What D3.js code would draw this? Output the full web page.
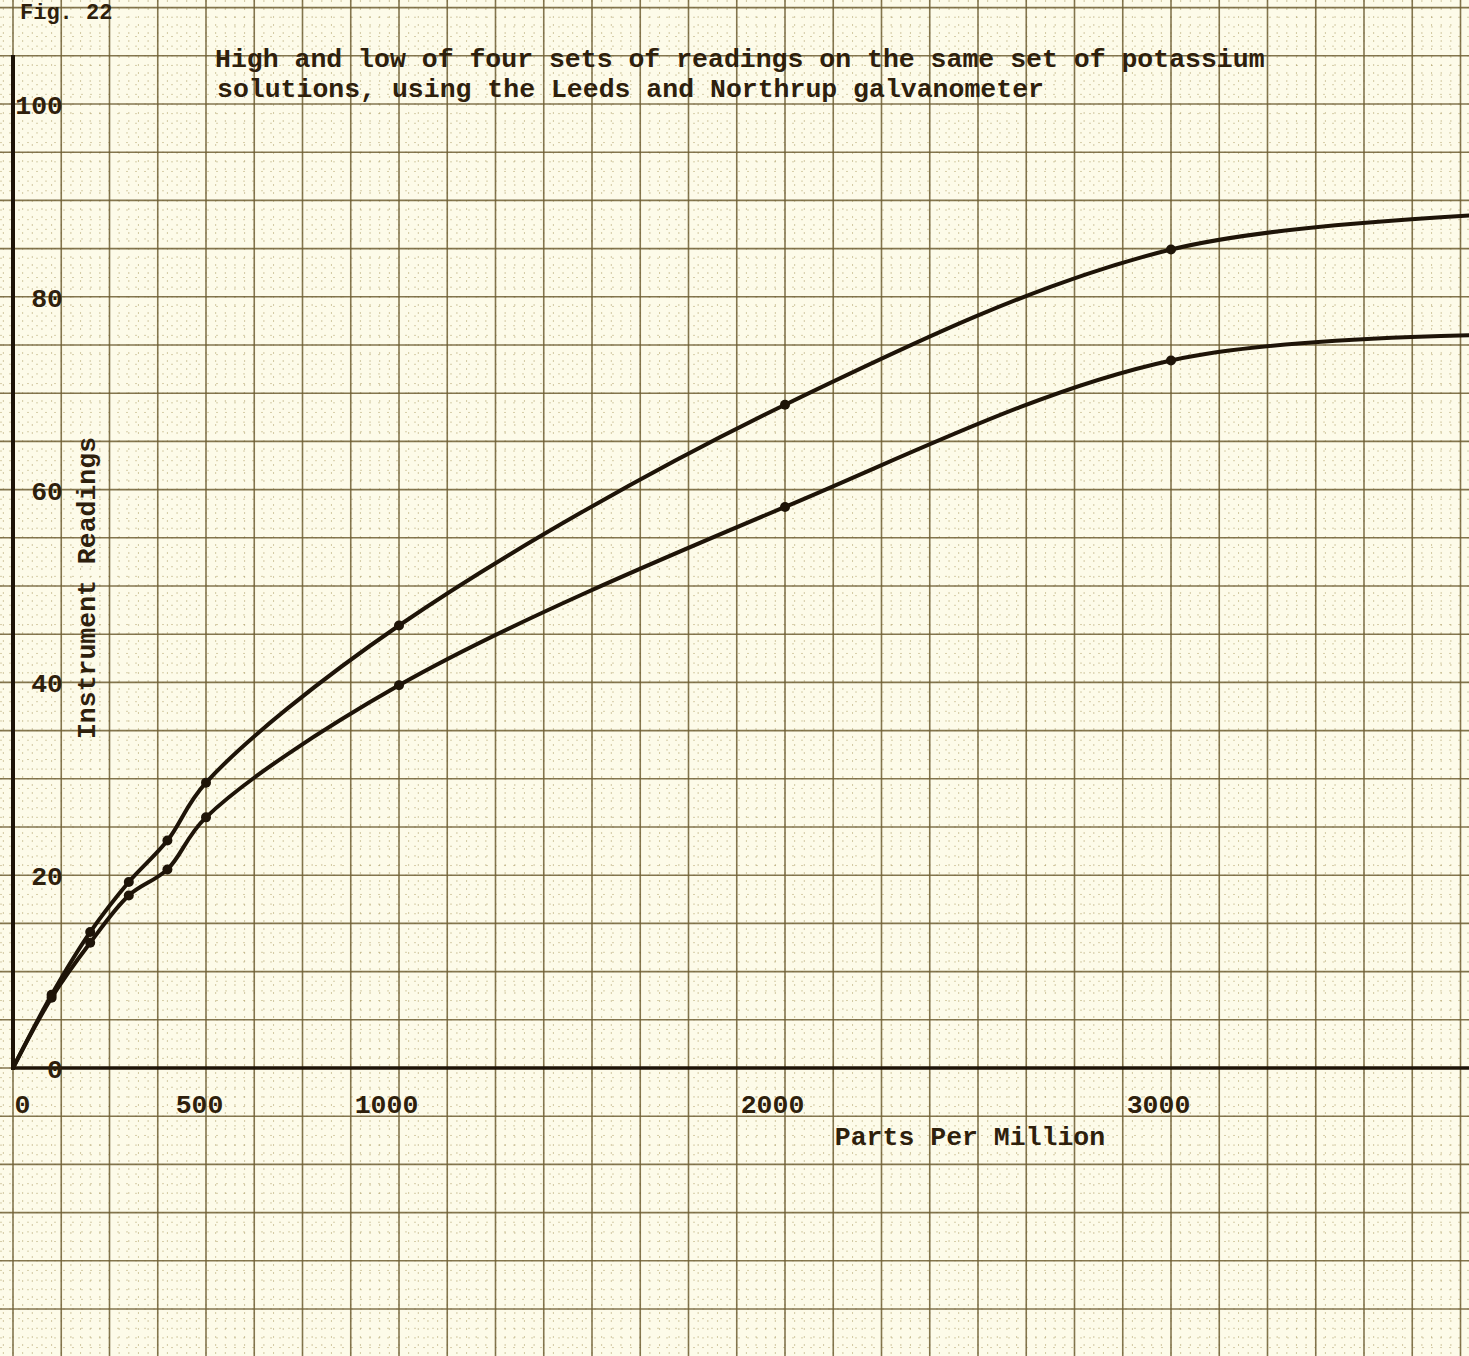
<!DOCTYPE html>
<html>
<head>
<meta charset="utf-8">
<script src="https://cdn.jsdelivr.net/npm/d3@7"></script>
<style>
  body { margin: 0; background: #fdfbe9; }
  text { font-family: "Liberation Mono", "DejaVu Sans Mono", monospace; font-weight: bold; fill: #2e200c; }
</style>
</head>
<body>
<div class="chart"></div>
<script>
const svgWidth = 1469
const svgHeight = 1356

// readings (ppm vs instrument reading)
const ppm = [0, 100, 200, 300, 400, 500, 1000, 2000, 3000, 4000]
const high = [0, 7.6, 14.1, 19.3, 23.6, 29.6, 45.9, 68.8, 84.9, 88.8]
const low = [0, 7.3, 13.0, 17.9, 20.6, 26.0, 39.7, 58.2, 73.4, 76.1]

const xTicks = [0, 500, 1000, 2000, 3000]
const yTicks = [0, 20, 40, 60, 80, 100]

const titleLines = [
  "High and low of four sets of readings on the same set of potassium",
  "solutions, using the Leeds and Northrup galvanometer"
]

let svg = d3
  .select(".chart")
  .append("svg")
  .attr("width", svgWidth)
  .attr("height", svgHeight)

svg.append("rect")
  .attr("width", svgWidth)
  .attr("height", svgHeight)
  .attr("fill", "#fdfbe9")

let x = d3.scaleLinear().domain([0, 1000]).range([13, 399])
let y = d3.scaleLinear().domain([0, 100]).range([1068, 104])

// graph paper: fine dotted rulings, heavier every 5 units
let grid = svg.append("g")

grid.selectAll(".minor-x")
  .data(d3.range(-25, 3800, 25))
  .enter()
  .append("line")
  .attr("x1", d => x(d)).attr("x2", d => x(d))
  .attr("y1", 0).attr("y2", svgHeight)
  .attr("stroke", "#a8985e")
  .attr("stroke-width", 1)
  .attr("stroke-dasharray", "2,6")
  .attr("opacity", 0.5)

grid.selectAll(".minor-y")
  .data(d3.range(-30, 112, 1))
  .enter()
  .append("line")
  .attr("x1", 0).attr("x2", svgWidth)
  .attr("y1", d => y(d)).attr("y2", d => y(d))
  .attr("stroke", "#a8985e")
  .attr("stroke-width", 1)
  .attr("stroke-dasharray", "2,7")
  .attr("opacity", 0.45)

grid.selectAll(".major-x")
  .data(d3.range(0, 3800, 125))
  .enter()
  .append("line")
  .attr("x1", d => x(d)).attr("x2", d => x(d))
  .attr("y1", 0).attr("y2", svgHeight)
  .attr("stroke", "#6f5f34")
  .attr("stroke-width", 1.6)
  .attr("opacity", 0.85)

grid.selectAll(".major-y")
  .data(d3.range(-30, 115, 5))
  .enter()
  .append("line")
  .attr("x1", 0).attr("x2", svgWidth)
  .attr("y1", d => y(d)).attr("y2", d => y(d))
  .attr("stroke", "#6f5f34")
  .attr("stroke-width", 1.6)
  .attr("opacity", 0.85)

// figure number at the top edge
svg.append("text")
  .attr("x", 20)
  .attr("y", 19)
  .attr("font-size", 22)
  .text("Fig. 22")

// title
svg.append("g")
  .selectAll("text")
  .data(titleLines)
  .enter()
  .append("text")
  .attr("x", (d, i) => 215 + i * 2)
  .attr("y", (d, i) => 67 + i * 30)
  .attr("font-size", 26.5)
  .text(d => d)

// axes lines
svg.append("line")
  .attr("x1", x(0)).attr("x2", x(0))
  .attr("y1", 55).attr("y2", y(0) + 2)
  .attr("stroke", "#1e1408")
  .attr("stroke-width", 4)

svg.append("line")
  .attr("x1", x(0) - 2).attr("x2", svgWidth)
  .attr("y1", y(0)).attr("y2", y(0))
  .attr("stroke", "#1e1408")
  .attr("stroke-width", 3.5)

// tick labels
let leftAxis = d3.axisLeft(y).tickValues(yTicks).tickSize(0).tickPadding(0)
let yAxis = svg.append("g")
  .attr("transform", "translate(63, 1)")
  .call(leftAxis)
yAxis.select(".domain").remove()
yAxis.selectAll("text")
  .attr("font-size", 26.5)
  .attr("font-family", null)
  .attr("fill", null)

let bottomAxis = d3.axisBottom(x)
  .tickValues(xTicks)
  .tickFormat(d3.format("d"))
  .tickSize(0)
  .tickPadding(26)
let xAxis = svg.append("g")
  .attr("transform", `translate(-13, ${y(0)})`)
  .call(bottomAxis)
xAxis.select(".domain").remove()
xAxis.selectAll("text")
  .attr("font-size", 26.5)
  .attr("font-family", null)
  .attr("fill", null)
xAxis.selectAll(".tick").filter(d => d === 0).select("text")
  .attr("dx", 22)
xAxis.selectAll(".tick").filter(d => d === 500).select("text")
  .attr("dx", 6)

// axis titles
svg.append("text")
  .attr("x", 970)
  .attr("y", 1145)
  .attr("text-anchor", "middle")
  .attr("font-size", 26.5)
  .text("Parts Per Million")

svg.append("text")
  .attr("transform", "translate(95, 588) rotate(-90)")
  .attr("text-anchor", "middle")
  .attr("font-size", 26.5)
  .text("Instrument Readings")

// curves
let series = [high, low]
let line = d3.line()
  .x((d, i) => x(ppm[i]))
  .y(d => y(d))
  .curve(d3.curveCatmullRom.alpha(0.5))

svg.append("g")
  .selectAll("path")
  .data(series)
  .enter()
  .append("path")
  .attr("d", d => line(d))
  .attr("fill", "none")
  .attr("stroke", "#1e1408")
  .attr("stroke-width", 4)
  .attr("stroke-linejoin", "round")

series.forEach(s => {
  svg.append("g")
    .selectAll("circle")
    .data(s.slice(1, ppm.length - 1))
    .enter()
    .append("circle")
    .attr("cx", (d, i) => x(ppm[i + 1]))
    .attr("cy", d => y(d))
    .attr("r", 5)
    .attr("fill", "#1e1408")
})
</script>
</body>
</html>
